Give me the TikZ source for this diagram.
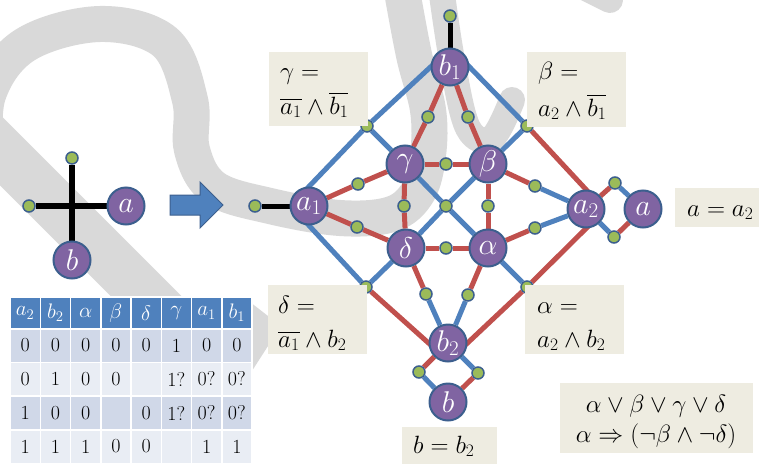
\documentclass[tikz,border=0pt]{standalone}
\usepackage{fix-cm}
\usepackage{amsmath}
\usetikzlibrary{calc}
\pgfdeclarelayer{wmlayer}
\pgfdeclarelayer{edgelayer}
\pgfsetlayers{wmlayer,edgelayer,main}
\definecolor{pur}{HTML}{8064A2}
\definecolor{rim}{HTML}{3C5F8E}
\definecolor{grn}{HTML}{9BBB59}
\definecolor{bl}{HTML}{4F81BD}
\definecolor{rd}{HTML}{C0504D}
\definecolor{beige}{HTML}{EEECE1}
\definecolor{rowA}{HTML}{D0D8E8}
\definecolor{rowB}{HTML}{E9EDF4}
\definecolor{wmgray}{HTML}{D9D9D9}
\begin{document}
\begin{tikzpicture}[x=1pt,y=-1pt,
  vtx/.style={circle, fill=pur, draw=rim, line width=2pt, minimum size=37pt, inner sep=0pt, text=white, font=\fontsize{30}{30}\selectfont},
  gdot/.style={circle, fill=grn, draw=rim, line width=1.5pt, minimum size=12pt, inner sep=0pt},
  be/.style={draw=bl, line width=5pt},
  re/.style={draw=rd, line width=5pt},
  ke/.style={draw=black, line width=5pt},
  lblbox/.style={fill=beige, inner sep=0pt},
  lbltext/.style={font=\fontsize{25}{30}\selectfont, inner sep=0pt, anchor=base west},
  hcell/.style={fill=bl, draw=white, line width=1.5pt, minimum width=30.25pt, minimum height=32pt, inner sep=0pt, text=white, font=\fontsize{21}{21}\selectfont},
  rcell/.style={fill=#1, draw=white, line width=1.5pt, minimum width=30.25pt, minimum height=33.5pt, inner sep=0pt, font=\fontsize{20}{20}\selectfont},
  wm/.style={draw=wmgray, line width=36pt, line cap=round, line join=round}
]
\useasboundingbox (0,0) rectangle (759,463);

% watermark
\begin{pgfonlayer}{wmlayer}
\fill[white] (0,0) rectangle (759,463);
\draw[wm] plot[smooth, tension=0.6] coordinates {(-14,160) (-12,95) (25,45) (100,24) (165,42) (190,100) (192,150) (214,188) (270,206) (340,218) (392,214) (418,192) (428,155) (428,110) (414,55) (400,-20)};
\draw[wm, line width=50pt, line cap=butt] (-20,130) -- (170,320);
\draw[wm, line width=26pt] plot[smooth, tension=0.6] coordinates {(440,-20) (452,60) (468,128) (492,138) (512,100)};
\draw[wm, line width=26pt] (560,-25) -- (610,0);
\fill[wmgray] (268,316) -- (268,346) -- (250,374) -- (250,302) -- cycle;
\end{pgfonlayer}

% left cross
\node[gdot] (ct) at (72,158) {};
\node[gdot] (cl) at (29,206) {};
\node[vtx] (ca) at (126,206) {$a$};
\node[vtx] (cb) at (72,260) {$b$};
\begin{pgfonlayer}{edgelayer}
\draw[ke, line width=6pt] (ct) -- (cb);
\draw[ke, line width=6pt] (cl) -- (ca);
\end{pgfonlayer}

% arrow
\draw[fill=bl, draw=rim, line width=1pt] (170,195) -- (200,195) -- (200,182) -- (223,205) -- (200,228) -- (200,215) -- (170,215) -- cycle;

% network vertices
\node[vtx] (b1) at (450,67) {$b_1$};
\node[vtx] (gam) at (405,164) {$\gamma$};
\node[vtx] (bet) at (488,164) {$\beta$};
\node[vtx] (del) at (406,248) {$\delta$};
\node[vtx] (alp) at (488,248) {$\alpha$};
\node[vtx] (a1) at (309,206) {$a_1$};
\node[vtx] (a2) at (586,209) {$a_2$};
\node[vtx] (an) at (643,209) {$a$};
\node[vtx] (b2) at (448,343) {$b_2$};
\node[vtx] (bn) at (448,402) {$b$};

% green dots
\node[gdot] (a1d) at (255,206) {};
\node[gdot] (b1t) at (450,16) {};
\node[gdot] (d1) at (428,117) {};
\node[gdot] (d2) at (468,117) {};
\node[gdot] (d3) at (446,164) {};
\node[gdot] (d4) at (367,126) {};
\node[gdot] (d5) at (527,126) {};
\node[gdot] (d6) at (358,184) {};
\node[gdot] (d7) at (357,227) {};
\node[gdot] (d8) at (404,206) {};
\node[gdot] (d9) at (446,206) {};
\node[gdot] (d10) at (488,206) {};
\node[gdot] (d11) at (446,248) {};
\node[gdot] (d12) at (535,186) {};
\node[gdot] (d13) at (535,228) {};
\node[gdot] (d14) at (366,287) {};
\node[gdot] (d15) at (527,287) {};
\node[gdot] (d16) at (426,294) {};
\node[gdot] (d17) at (468,295) {};
\node[gdot] (d18) at (615,183) {};
\node[gdot] (d19) at (614,237) {};
\node[gdot] (d20) at (419,372) {};
\node[gdot] (d21) at (478,373) {};

\begin{pgfonlayer}{edgelayer}
\draw[ke] (a1d) -- (a1);
\draw[ke] (b1t) -- (b1);
% blue
\draw[be, shorten <=-3pt] (a1.north) -- (d4);
\draw[be, shorten >=-3pt] (d4) -- (b1.west);
\draw[be] (d4) -- (gam);
\draw[be, shorten <=-3pt] (b1.east) -- (d5);
\draw[be] (d5) -- (bet);
\draw[be, shorten <=-3pt] (a1.south) -- (d14);
\draw[be] (d14) -- (del);
\draw[be] (d15) -- (alp);
\draw[be] (gam) -- (d9) -- (alp);
\draw[be] (bet) -- (d9) -- (del);
\draw[be] (d12) -- (a2);
\draw[be] (d13) -- (a2);
\draw[be] (d16) -- (b2);
\draw[be] (d17) -- (b2);
\draw[be] (d18) -- (an);
\draw[be] (a2) -- (d19);
\draw[be] (d20) -- (bn);
\draw[be] (b2) -- (d21);
% red
\draw[re, shorten >=-3pt] (d5) -- (a2.north);
\draw[re, shorten >=-3pt] (d14) -- (b2.west);
\draw[re, shorten <=-3pt] (a2.south) -- (d15);
\draw[re, shorten >=-3pt] (d15) -- (b2.east);
\draw[re] (a1) -- (d6) -- (gam);
\draw[re] (a1) -- (d7) -- (del);
\draw[re] (b1) -- (d1) -- (gam);
\draw[re] (b1) -- (d2) -- (bet);
\draw[re] (gam) -- (d3) -- (bet);
\draw[re] (gam) -- (d8) -- (del);
\draw[re] (bet) -- (d10) -- (alp);
\draw[re] (del) -- (d11) -- (alp);
\draw[re] (bet) -- (d12);
\draw[re] (alp) -- (d13);
\draw[re] (del) -- (d16);
\draw[re] (alp) -- (d17);
\draw[re] (a2) -- (d18);
\draw[re] (d19) -- (an);
\draw[re] (b2) -- (d20);
\draw[re] (d21) -- (bn);
\end{pgfonlayer}

% label boxes
\node[lblbox, minimum width=99pt, minimum height=74pt] (gbox) at (318.5,89) {};
\node[lbltext] (gl1) at (280,79) {$\gamma =$};
\node[lbltext] (gl2) at (280,114) {$\overline{a_1}\wedge\overline{b_1}$};
\node[lblbox, minimum width=99pt, minimum height=75pt] (bbox) at (576.5,89.5) {};
\node[lbltext] (bl1) at (538,79) {$\beta =$};
\node[lbltext] (bl2) at (538,116) {$a_2\wedge\overline{b_1}$};
\node[lblbox, minimum width=99pt, minimum height=69pt] (dbox) at (317.5,319.5) {};
\node[lbltext] (dl1) at (278,313) {$\delta =$};
\node[lbltext] (dl2) at (278,347) {$\overline{a_1}\wedge b_2$};
\node[lblbox, minimum width=99pt, minimum height=69pt] (abox) at (574.5,319.5) {};
\node[lbltext] (al1) at (537,313) {$\alpha =$};
\node[lbltext] (al2) at (537,347) {$a_2\wedge b_2$};
\node[lblbox, minimum width=90pt, minimum height=39pt] (eabox) at (720,207.5) {};
\node[lbltext] (eal) at (687,216) {$a = a_2$};
\node[lblbox, minimum width=95pt, minimum height=40pt] (ebbox) at (449.5,447) {};
\node[lbltext] (ebl) at (413,453) {$b = b_2$};
\node[lblbox, minimum width=193pt, minimum height=70pt] (cbox) at (656.5,418) {};
\node[lbltext, anchor=base] (cl1) at (656,412) {$\alpha\vee\beta\vee\gamma\vee\delta$};
\node[lbltext, anchor=base] (cl2) at (656,442) {$\alpha\Rightarrow(\neg\beta\wedge\neg\delta)$};

% table
\foreach \h [count=\i from 0] in {a_2,b_2,\alpha,\beta,\delta,\gamma,a_1,b_1}
  \node[hcell] (h\i) at ({25.125+30.25*\i},313) {$\h$};
\foreach \v [count=\i from 0] in {0,0,0,0,0,1,0,0}
  \node[rcell=rowA] (ra\i) at ({25.125+30.25*\i},345.5) {\v};
\foreach \v [count=\i from 0] in {0,1,0,0,{},1?,0?,0?}
  \node[rcell=rowB] (rb\i) at ({25.125+30.25*\i},379) {\v};
\foreach \v [count=\i from 0] in {1,0,0,{},0,1?,0?,0?}
  \node[rcell=rowA] (rc\i) at ({25.125+30.25*\i},413) {\v};
\foreach \v [count=\i from 0] in {1,1,1,0,0,{},1,1}
  \node[rcell=rowB] (rd\i) at ({25.125+30.25*\i},446.5) {\v};
\end{tikzpicture}
\end{document}
